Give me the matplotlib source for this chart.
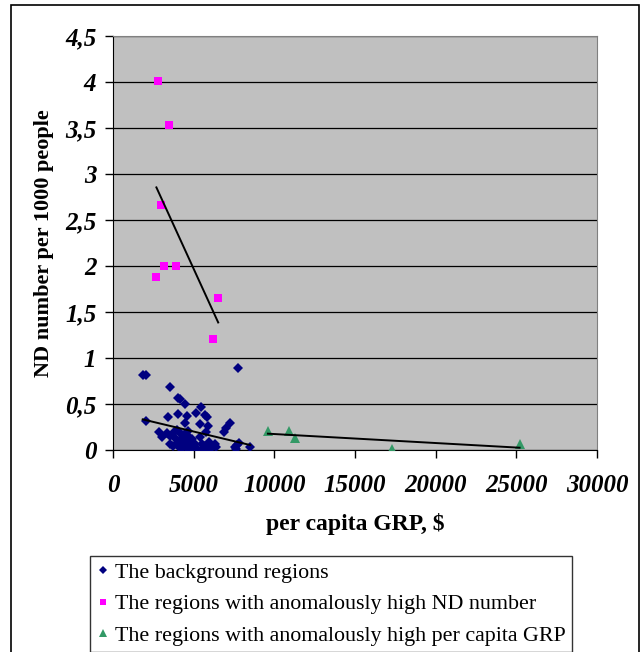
import numpy as np
import matplotlib.pyplot as plt
from matplotlib.ticker import FuncFormatter, MultipleLocator
from matplotlib.patches import Rectangle

# background regions (per capita GRP $, ND per 1000 people)
bgX = [1840, 2040, 7720, 3510, 4000, 4140, 4450, 5430, 5120, 5690, 5800, 4020,
       4560, 3420, 4450, 5400, 5870, 7240, 7000, 6880, 2030, 2870, 3030, 3350,
       3520, 3560, 3700, 4150, 4260, 4400, 4560, 4730, 4810, 5020, 5390, 5760,
       5640, 5850, 6010, 6220, 6380, 7540, 7700, 7830, 8510,
       3900, 4000, 4100, 4200, 4300, 4350, 4500, 4620, 4700, 4850, 4900, 5100,
       5200, 3800, 3950, 4650, 5500, 5550, 6100, 5950, 6300, 7600]
bgY = [0.81, 0.81, 0.89, 0.68, 0.57, 0.55, 0.50, 0.47, 0.40, 0.38, 0.355, 0.39,
       0.37, 0.355, 0.29, 0.285, 0.265, 0.29, 0.24, 0.20, 0.31, 0.20, 0.14, 0.185,
       0.155, 0.06, 0.045, 0.18, 0.13, 0.09, 0.055, 0.145, 0.075, 0.045, 0.145, 0.20,
       0.045, 0.015, 0.065, 0.045, 0.035, 0.035, 0.055, 0.075, 0.035,
       0.12, 0.08, 0.03, 0.10, 0.02, 0.16, 0.12, 0.01, 0.10, 0.02, 0.12, 0.06,
       0.01, 0.20, 0.22, 0.21, 0.06, 0.01, 0.02, 0.09, 0.07, 0.01]

# regions with anomalously high ND number
ndX = [2800, 3460, 2970, 3170, 3890, 2690, 6520, 6180]
ndY = [4.01, 3.53, 2.66, 2.0, 2.0, 1.88, 1.65, 1.21]

# regions with anomalously high per capita GRP
grpX = [9600, 10900, 11300, 17300, 25200]
grpY = [0.21, 0.21, 0.13, 0.01, 0.07]

labels = ['The background regions',
          'The regions with anomalously high ND number',
          'The regions with anomalously high per capita GRP']

W, H = 643, 652
fig = plt.figure(figsize=(W/100, H/100), dpi=100)
ax = fig.add_axes([113/W, 1-450/H, 484/W, 414/H])
ax.set_facecolor('#C0C0C0')

ax.plot(bgX, bgY, 'D', color='#000080', ms=5.5, mew=0, label=labels[0], zorder=3)
ax.plot(ndX, ndY, 's', color='#FF00FF', ms=6, mew=0, label=labels[1], zorder=3)
ax.plot(grpX, grpY, '^', color='#339966', ms=7, mew=0, label=labels[2], zorder=3)

# linear trend lines
for xs, ys in [(bgX, bgY), (ndX, ndY), (grpX, grpY)]:
    fit = np.polyfit(xs, ys, 1)
    tx = np.array([min(xs), max(xs)])
    ax.plot(tx, np.polyval(fit, tx), color='black', lw=1.4, zorder=4)

ax.set_xlim(0, 30000)
ax.set_ylim(0, 4.5)
ax.xaxis.set_major_locator(MultipleLocator(5000))
ax.yaxis.set_major_locator(MultipleLocator(0.5))
ax.yaxis.set_major_formatter(FuncFormatter(lambda v, p: f'{v:g}'.replace('.', ',')))
ax.grid(axis='y', color='black', lw=0.9)
ax.set_axisbelow(True)

for s in ['top', 'right']:
    ax.spines[s].set_color('#808080')
for s in ['left', 'bottom']:
    ax.spines[s].set_color('black')
ax.tick_params(direction='out', length=6, width=1, colors='black')
ax.tick_params(axis='x', pad=11)
ax.tick_params(axis='y', pad=6)

tickfont = dict(family='Liberation Serif', weight='bold', style='italic', size=18)
for t in ax.get_xticklabels() + ax.get_yticklabels():
    t.set_fontproperties(tickfont)

ax.set_xlabel('per capita GRP, $', family='Liberation Serif', weight='bold',
              size=17, labelpad=12)
ax.set_ylabel('ND number per 1000 people', family='Liberation Serif', weight='bold',
              size=16, labelpad=8)

leg = fig.legend(loc='upper left', bbox_to_anchor=(90/W, 1-650/H, 482/W, 94/H),
                 mode='expand', prop=dict(family='Liberation Serif', size=15.8),
                 frameon=True, fancybox=False, edgecolor='black', borderaxespad=0,
                 handlelength=0.6, handletextpad=0.25, markerscale=0.75,
                 labelspacing=0.5, borderpad=0.3)
leg.get_frame().set_linewidth(1)

# outer frame of the chart
fig.patches.append(Rectangle((11/W, -0.05), 628/W, 1.05-5/H, transform=fig.transFigure,
                             fill=False, edgecolor='black', lw=1.2))

fig.savefig('out.png', dpi=100)
